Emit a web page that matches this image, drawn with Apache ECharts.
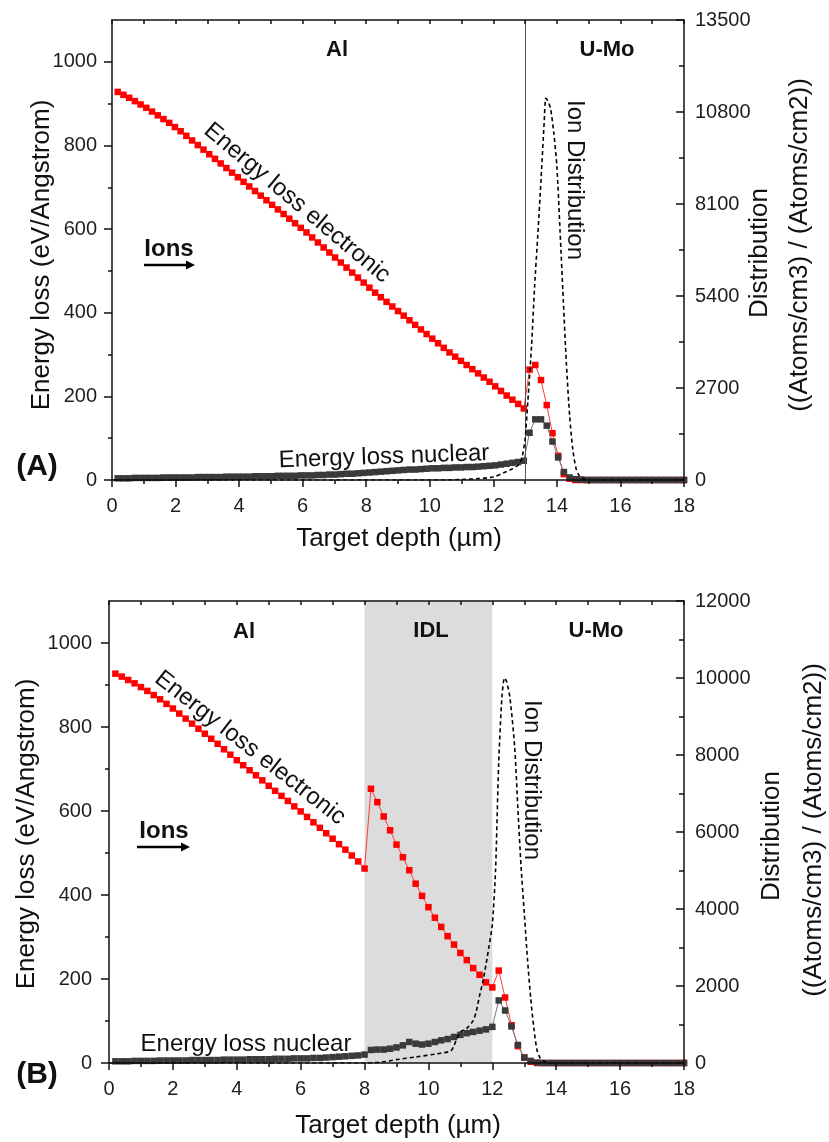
<!DOCTYPE html>
<html>
<head>
<meta charset="utf-8">
<script src="https://cdn.jsdelivr.net/npm/echarts@6/dist/echarts.min.js"></script>
<style>
  html, body { margin: 0; padding: 0; background: #ffffff; }
  #chart { width: 829px; height: 1142px; }
</style>
</head>
<body>
<div id="chart"></div>
<script>
// ---------- Panel A: Al / U-Mo (SRIM depth bins, µm) ----------
const depthA = [
  0.18, 0.36, 0.54, 0.72, 0.90, 1.08, 1.26, 1.44, 1.62, 1.80,
  1.98, 2.16, 2.34, 2.52, 2.70, 2.88, 3.06, 3.24, 3.42, 3.60,
  3.78, 3.96, 4.14, 4.32, 4.50, 4.68, 4.86, 5.04, 5.22, 5.40,
  5.58, 5.76, 5.94, 6.12, 6.30, 6.48, 6.66, 6.84, 7.02, 7.20,
  7.38, 7.56, 7.74, 7.92, 8.10, 8.28, 8.46, 8.64, 8.82, 9.00,
  9.18, 9.36, 9.54, 9.72, 9.90, 10.08, 10.26, 10.44, 10.62, 10.80,
  10.98, 11.16, 11.34, 11.52, 11.70, 11.88, 12.06, 12.24, 12.42, 12.60,
  12.78, 12.96, 13.14, 13.32, 13.50, 13.68, 13.86, 14.04, 14.22, 14.40,
  14.58, 14.76, 14.94, 15.12, 15.30, 15.48, 15.66, 15.84, 16.02, 16.20,
  16.38, 16.56, 16.74, 16.92, 17.10, 17.28, 17.46, 17.64, 17.82, 18.00
];
// electronic energy loss (eV/Angstrom)
const elecA = [
  928, 921, 914, 906, 898, 890, 881, 872, 863, 854,
  844, 834, 823, 812, 801, 790, 779, 768, 757, 746,
  735, 724, 713, 702, 691, 680, 669, 658, 647, 636,
  625, 614, 603, 592, 580, 568, 556, 544, 532, 520,
  508, 496, 484, 472, 460, 448, 437, 426, 415, 404,
  393, 382, 371, 360, 349, 338, 327, 316, 305, 295,
  285, 275, 265, 255, 245, 235, 224, 213, 202, 192,
  182, 171, 264, 275, 239, 179, 112, 58, 14, 3,
  0, 0, 0, 0, 0, 0, 0, 0, 0, 0,
  0, 0, 0, 0, 0, 0, 0, 0, 0, 0
];
// nuclear energy loss (eV/Angstrom)
const nucA = [
  4, 4, 4, 5, 5, 5, 5, 5, 6, 6,
  6, 6, 6, 6, 7, 7, 7, 7, 7, 8,
  8, 8, 8, 8, 9, 9, 9, 9, 10, 10,
  10, 10, 11, 11, 11, 12, 12, 13, 13, 14,
  15, 15, 16, 17, 18, 19, 20, 21, 22, 23,
  24, 25, 25, 26, 27, 28, 28, 29, 29, 30,
  30, 31, 31, 32, 33, 34, 35, 37, 39, 41,
  43, 46, 113, 145, 145, 130, 92, 54, 19, 6,
  2, 1, 0, 0, 0, 0, 0, 0, 0, 0,
  0, 0, 0, 0, 0, 0, 0, 0, 0, 0
];
// implanted ion distribution ((Atoms/cm3) / (Atoms/cm2))
const ionDepthA = [
  0, 10.5, 11.0, 11.5, 12.0, 12.4, 12.6, 12.8, 12.9, 13.0,
  13.1, 13.2, 13.3, 13.4, 13.5, 13.6, 13.65, 13.7, 13.8, 13.9,
  14.0, 14.1, 14.2, 14.3, 14.4, 14.5, 14.6, 14.7, 14.8, 14.9,
  15.0, 18.0
];
const ionA = [
  0, 0, 15, 40, 90, 240, 330, 450, 650, 1200,
  2500, 3900, 5700, 7200, 8800, 10500, 11200, 11150, 10900, 10200,
  9200, 7300, 5300, 3400, 1900, 900, 350, 130, 50, 15,
  0, 0
];
const layerEdgeA = [13];

// ---------- Panel B: Al / IDL / U-Mo ----------
const depthB = [
  0.2, 0.4, 0.6, 0.8, 1.0, 1.2, 1.4, 1.6, 1.8, 2.0,
  2.2, 2.4, 2.6, 2.8, 3.0, 3.2, 3.4, 3.6, 3.8, 4.0,
  4.2, 4.4, 4.6, 4.8, 5.0, 5.2, 5.4, 5.6, 5.8, 6.0,
  6.2, 6.4, 6.6, 6.8, 7.0, 7.2, 7.4, 7.6, 7.8, 8.0,
  8.2, 8.4, 8.6, 8.8, 9.0, 9.2, 9.4, 9.6, 9.8, 10.0,
  10.2, 10.4, 10.6, 10.8, 11.0, 11.2, 11.4, 11.6, 11.8, 12.0,
  12.2, 12.4, 12.6, 12.8, 13.0, 13.2, 13.4, 13.6, 13.8, 14.0,
  14.2, 14.4, 14.6, 14.8, 15.0, 15.2, 15.4, 15.6, 15.8, 16.0,
  16.2, 16.4, 16.6, 16.8, 17.0, 17.2, 17.4, 17.6, 17.8, 18.0
];
const elecB = [
  927, 920, 912, 904, 895, 886, 876, 866, 855, 844,
  832, 820, 808, 796, 784, 772, 760, 747, 734, 721,
  709, 697, 685, 673, 660, 648, 636, 624, 611, 599,
  586, 573, 560, 547, 534, 521, 508, 494, 480, 463,
  653, 621, 587, 554, 520, 490, 459, 427, 398, 371,
  346, 324, 302, 282, 262, 245, 226, 210, 192, 180,
  220, 156, 90, 40, 13, 3, 0, 0, 0, 0,
  0, 0, 0, 0, 0, 0, 0, 0, 0, 0,
  0, 0, 0, 0, 0, 0, 0, 0, 0, 0
];
const nucB = [
  4, 4, 4, 5, 5, 5, 5, 6, 6, 6,
  6, 6, 7, 7, 7, 7, 7, 8, 8, 8,
  8, 9, 9, 9, 9, 10, 10, 10, 11, 11,
  11, 12, 12, 13, 14, 15, 16, 17, 18, 20,
  31, 32, 32, 34, 37, 42, 50, 46, 44, 46,
  50, 54, 57, 62, 67, 71, 74, 77, 80, 86,
  149, 125, 87, 43, 13, 5, 1, 0, 0, 0,
  0, 0, 0, 0, 0, 0, 0, 0, 0, 0,
  0, 0, 0, 0, 0, 0, 0, 0, 0, 0
];
const ionDepthB = [
  0, 8.0, 8.5, 9.0, 9.6, 10.3, 10.7, 10.8, 10.9, 11.0,
  11.2, 11.4, 11.5, 11.6, 11.7, 11.8, 11.9, 12.0, 12.1, 12.2,
  12.3, 12.38, 12.45, 12.55, 12.7, 12.8, 12.9, 13.0, 13.1, 13.2,
  13.3, 13.4, 13.5, 13.6, 13.8, 18.0
];
const ionB = [
  0, 0, 20, 88, 156, 244, 312, 450, 650, 805,
  900, 1100, 1350, 1750, 2100, 2550, 3050, 3600, 5000, 7800,
  9500, 10000, 9900, 9500, 8200, 6600, 5100, 3900, 2700, 1700,
  900, 330, 120, 50, 0, 0
];
const idlRangeB = [8, 12];

// ---------- axis ticks ----------
const depthTicks = [0, 2, 4, 6, 8, 10, 12, 14, 16, 18];
const lossTicks = [0, 200, 400, 600, 800, 1000];
const lossMinorTicks = [100, 300, 500, 700, 900];
const distTicksA = [0, 2700, 5400, 8100, 10800, 13500];
const distTicksB = [0, 2000, 4000, 6000, 8000, 10000, 12000];

const FONT = '"Liberation Sans", Arial, Helvetica, sans-serif';
const AXIS_COLOR = '#111';
const LABEL_COLOR = '#1e1e1e';
const TICK_FONT = 20;
const plain = v => String(v);

const pairs = (xs, ys) => xs.map((x, i) => [x, ys[i]]);

function bottomAxis(grid) {
  return {
    gridIndex: grid, type: 'value', position: 'bottom', min: 0, max: 18, interval: 2, z: 10,
    axisLine: { show: true, onZero: false, lineStyle: { color: AXIS_COLOR, width: 1.5 } },
    axisTick: { show: true, inside: false, length: 7, lineStyle: { color: AXIS_COLOR, width: 1.5 } },
    minorTick: { show: true, splitNumber: 2, length: 4, lineStyle: { color: AXIS_COLOR, width: 1.5 } },
    axisLabel: { show: true, customValues: depthTicks, formatter: plain, fontSize: TICK_FONT, fontFamily: FONT, color: LABEL_COLOR, margin: 16 },
    splitLine: { show: false }, minorSplitLine: { show: false }
  };
}
function topAxis(grid) {
  return {
    gridIndex: grid, type: 'value', position: 'top', min: 0, max: 18, interval: 1, z: 10,
    axisLine: { show: true, onZero: false, lineStyle: { color: AXIS_COLOR, width: 1.5 } },
    axisTick: { show: true, inside: true, length: 4, lineStyle: { color: AXIS_COLOR, width: 1.5 } },
    axisLabel: { show: false }, splitLine: { show: false }
  };
}
function leftAxis(grid, margin) {
  return {
    gridIndex: grid, type: 'value', position: 'left', min: 0, max: 1100, z: 10,
    axisLine: { show: true, onZero: false, lineStyle: { color: AXIS_COLOR, width: 1.5 } },
    axisTick: { show: true, inside: false, length: 8, customValues: lossTicks, lineStyle: { color: AXIS_COLOR, width: 1.5 } },
    axisLabel: { show: true, customValues: lossTicks, formatter: plain, fontSize: TICK_FONT, fontFamily: FONT, color: LABEL_COLOR, margin: margin },
    splitLine: { show: false }
  };
}
function leftMinorAxis(grid) {
  return {
    gridIndex: grid, type: 'value', position: 'left', min: 0, max: 1100, z: 10,
    axisLine: { show: false },
    axisTick: { show: true, inside: false, length: 4, customValues: lossMinorTicks, lineStyle: { color: AXIS_COLOR, width: 1.5 } },
    axisLabel: { show: false }, splitLine: { show: false }
  };
}
function rightAxis(grid, max, interval, ticks) {
  return {
    gridIndex: grid, type: 'value', position: 'right', min: 0, max: max, interval: interval, z: 10,
    axisLine: { show: true, onZero: false, lineStyle: { color: AXIS_COLOR, width: 1.5 } },
    axisTick: { show: true, inside: true, length: 8, lineStyle: { color: AXIS_COLOR, width: 1.5 } },
    minorTick: { show: true, splitNumber: 2, length: 5, lineStyle: { color: AXIS_COLOR, width: 1.5 } },
    axisLabel: { show: true, customValues: ticks, formatter: plain, fontSize: TICK_FONT, fontFamily: FONT, color: LABEL_COLOR, margin: 11 },
    splitLine: { show: false }, minorSplitLine: { show: false }
  };
}

function elecSeries(xi, yi, xs, ys) {
  return {
    type: 'line', xAxisIndex: xi, yAxisIndex: yi, data: pairs(xs, ys), z: 3,
    symbol: 'rect', symbolSize: 6.5, showSymbol: true, showAllSymbol: true,
    itemStyle: { color: '#ff0000' },
    lineStyle: { color: '#ff3b3b', width: 1 },
    animation: false, silent: true
  };
}
function nucSeries(xi, yi, xs, ys) {
  return {
    type: 'line', xAxisIndex: xi, yAxisIndex: yi, data: pairs(xs, ys), z: 4,
    symbol: 'rect', symbolSize: 6.5, showSymbol: true, showAllSymbol: true,
    itemStyle: { color: '#3a3a3a' },
    lineStyle: { color: '#777', width: 1 },
    animation: false, silent: true
  };
}
function ionSeries(xi, yi, xs, ys) {
  return {
    type: 'line', xAxisIndex: xi, yAxisIndex: yi, data: pairs(xs, ys), z: 5,
    symbol: 'none', smooth: 0.25,
    lineStyle: { color: '#000', width: 1.6, type: [4, 3] },
    animation: false, silent: true
  };
}

function text(x, y, str, size, bold, rotDeg) {
  const font = (bold ? 'bold ' : '') + size + 'px ' + FONT;
  return {
    type: 'text', x: x, y: y, rotation: (rotDeg || 0) * Math.PI / 180, z: 100, silent: true,
    style: { text: str, font: font, fill: '#111', textAlign: 'center', align: 'center',
             textVerticalAlign: 'middle', verticalAlign: 'middle' }
  };
}
function arrow(x1, x2, y) {
  return [
    { type: 'line', z: 100, silent: true, shape: { x1: x1, y1: y, x2: x2 - 6, y2: y },
      style: { stroke: '#000', lineWidth: 2.5 } },
    { type: 'polygon', z: 100, silent: true,
      shape: { points: [[x2 - 9, y - 4.5], [x2, y], [x2 - 9, y + 4.5]] },
      style: { fill: '#000' } }
  ];
}

const option = {
  backgroundColor: '#ffffff',
  animation: false,
  grid: [
    { left: 112, top: 20, width: 572, height: 460 },
    { left: 109, top: 601, width: 575, height: 462 }
  ],
  xAxis: [bottomAxis(0), topAxis(0), bottomAxis(1), topAxis(1)],
  yAxis: [
    leftAxis(0, 15), leftMinorAxis(0), rightAxis(0, 13500, 2700, distTicksA),
    leftAxis(1, 17), leftMinorAxis(1), rightAxis(1, 12000, 2000, distTicksB)
  ],
  series: [
    // Al | U-Mo interface
    {
      type: 'line', xAxisIndex: 0, yAxisIndex: 0, data: [], z: 2, silent: true,
      markLine: {
        silent: true, symbol: 'none', animation: false,
        label: { show: false },
        lineStyle: { color: '#555', width: 1, type: 'solid' },
        data: layerEdgeA.map(v => ({ xAxis: v }))
      }
    },
    elecSeries(0, 0, depthA, elecA),
    nucSeries(0, 0, depthA, nucA),
    ionSeries(0, 2, ionDepthA, ionA),
    // IDL interlayer band
    {
      type: 'line', xAxisIndex: 2, yAxisIndex: 3, data: [], z: 1, silent: true,
      markArea: {
        silent: true, animation: false,
        itemStyle: { color: '#dcdcdc' },
        data: [[{ xAxis: idlRangeB[0] }, { xAxis: idlRangeB[1] }]]
      }
    },
    elecSeries(2, 3, depthB, elecB),
    nucSeries(2, 3, depthB, nucB),
    ionSeries(2, 5, ionDepthB, ionB)
  ],
  graphic: [].concat(
    [
      // panel A annotations
      text(337, 50, 'Al', 22, true),
      text(607, 50, 'U-Mo', 22, true),
      text(297, 203, 'Energy loss electronic', 24, false, -40),
      text(575, 180, 'Ion Distribution', 24, false, -90),
      text(169, 249, 'Ions', 24, true),
      text(384, 457, 'Energy loss nuclear', 24, false, 2),
      text(37, 467, '(A)', 30, true),
      text(42, 255, 'Energy loss (eV/Angstrom)', 26, false, 90),
      text(399, 539, 'Target depth (µm)', 26, false),
      text(760, 253, 'Distribution', 26, false, 90),
      text(800, 245, '((Atoms/cm3) / (Atoms/cm2))', 26, false, 90),
      // panel B annotations
      text(244, 632, 'Al', 22, true),
      text(431, 631, 'IDL', 22, true),
      text(596, 631, 'U-Mo', 22, true),
      text(250, 748, 'Energy loss electronic', 24, false, -38),
      text(532, 780, 'Ion Distribution', 24, false, -90),
      text(164, 831, 'Ions', 24, true),
      text(246, 1044, 'Energy loss nuclear', 24, false),
      text(37, 1075, '(B)', 30, true),
      text(27, 834, 'Energy loss (eV/Angstrom)', 26, false, 90),
      text(398, 1126, 'Target depth (µm)', 26, false),
      text(772, 836, 'Distribution', 26, false, 90),
      text(814, 830, '((Atoms/cm3) / (Atoms/cm2))', 26, false, 90)
    ],
    arrow(144, 195, 265),
    arrow(137, 190, 847)
  )
};

const chart = echarts.init(document.getElementById('chart'), null, { renderer: 'canvas', devicePixelRatio: 1 });
chart.setOption(option);
</script>
</body>
</html>
